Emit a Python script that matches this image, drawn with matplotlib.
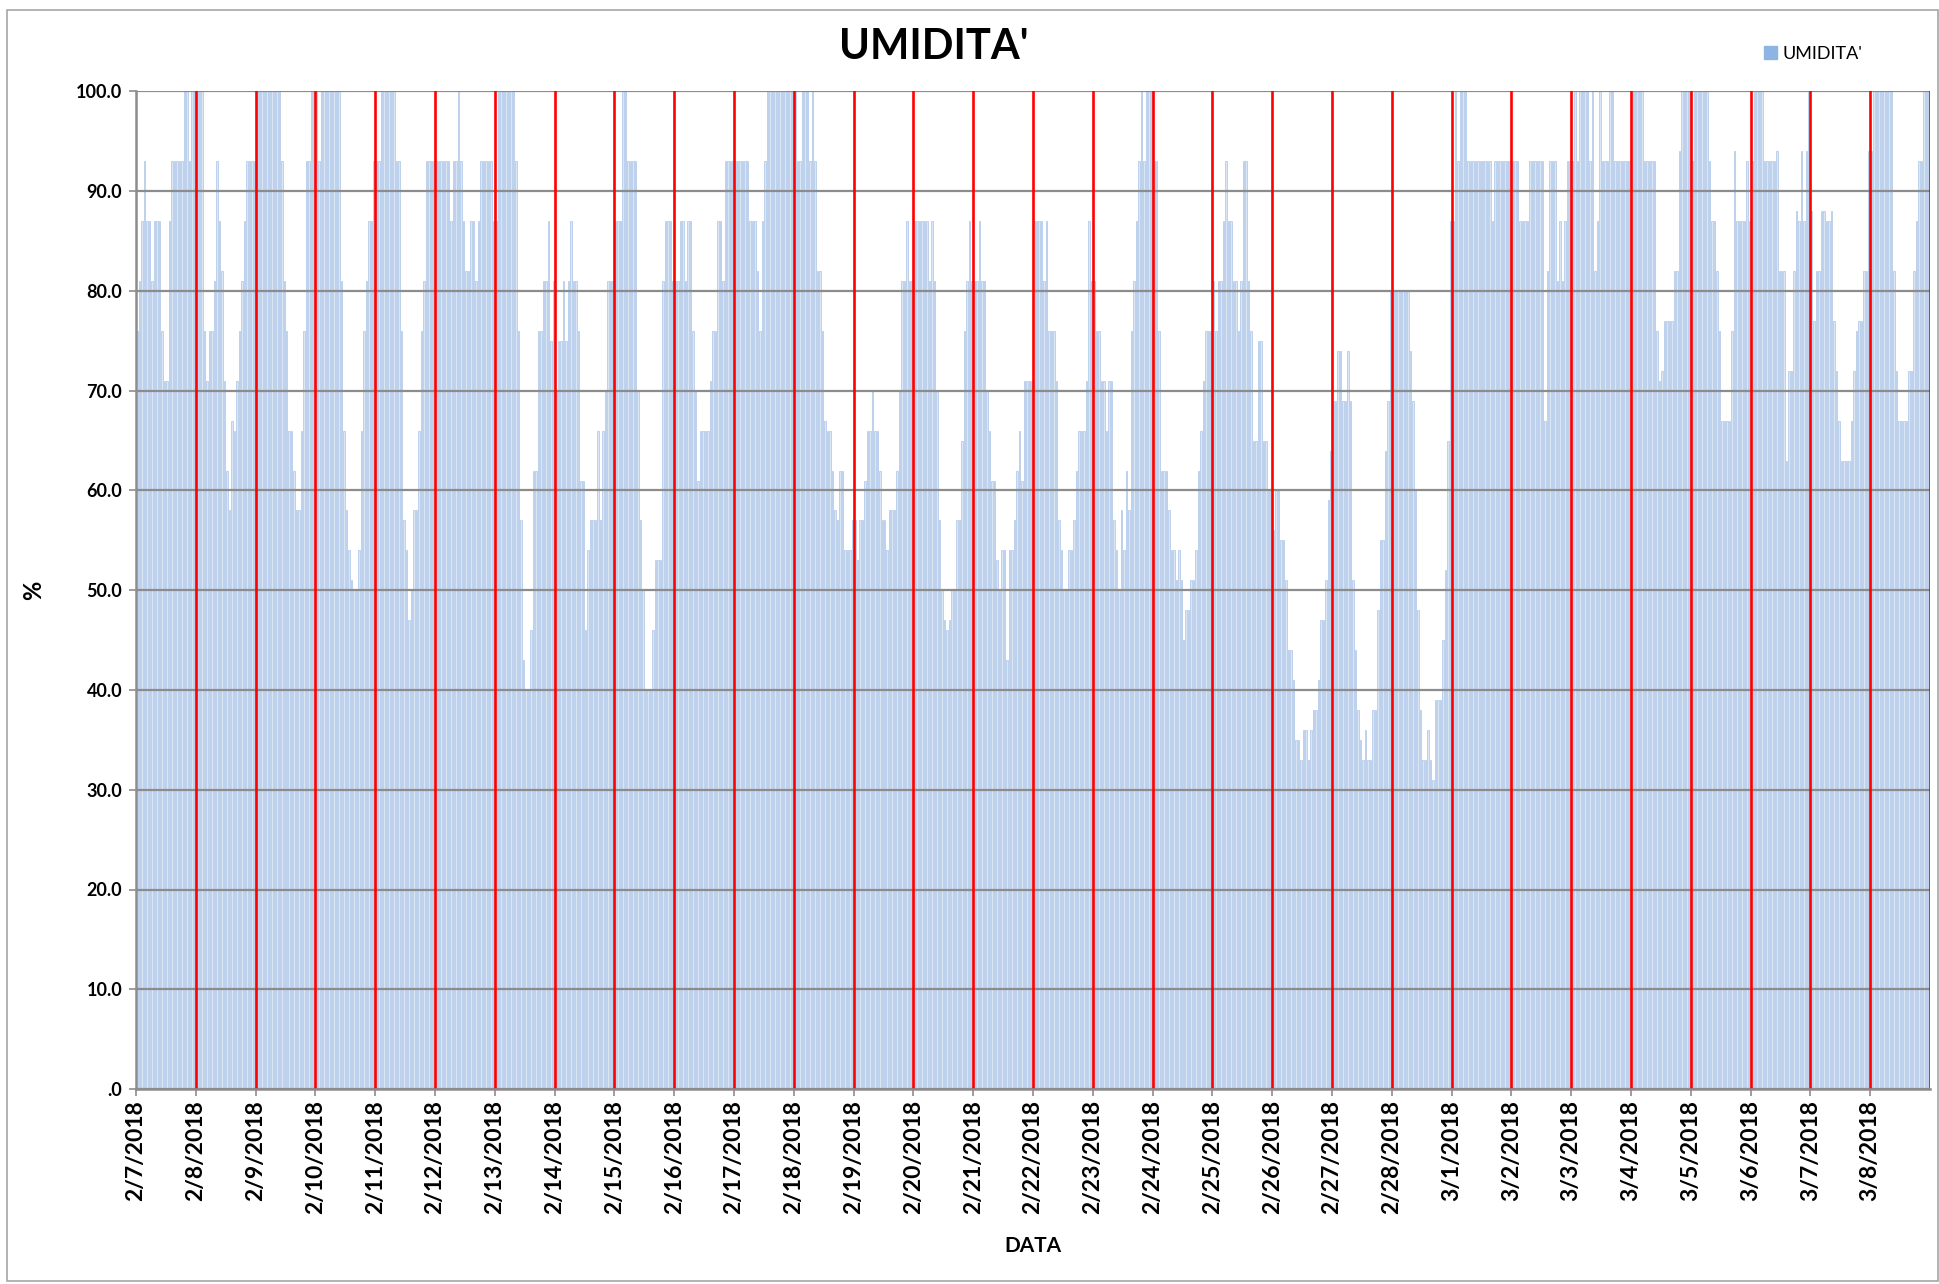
import matplotlib
matplotlib.use("Agg")
import matplotlib.pyplot as plt
from matplotlib.patches import Patch, Rectangle

plt.rcParams['font.family'] = ['Lato', 'DejaVu Sans']

# one label per day, 24 hourly readings per day
date_labels = ['2/7/2018', '2/8/2018', '2/9/2018', '2/10/2018', '2/11/2018', '2/12/2018',
               '2/13/2018', '2/14/2018', '2/15/2018', '2/16/2018', '2/17/2018', '2/18/2018',
               '2/19/2018', '2/20/2018', '2/21/2018', '2/22/2018', '2/23/2018', '2/24/2018',
               '2/25/2018', '2/26/2018', '2/27/2018', '2/28/2018', '3/1/2018', '3/2/2018',
               '3/3/2018', '3/4/2018', '3/5/2018', '3/6/2018', '3/7/2018', '3/8/2018']

umidita = [
    76, 81, 87, 93, 87, 87, 81, 87, 87, 87, 76, 71, 71, 87, 93, 93, 93, 93, 93, 100, 100, 93, 100, 100,   # 2/7
    100, 100, 100, 76, 71, 76, 76, 81, 93, 87, 82, 71, 62, 58, 67, 66, 71, 76, 81, 87, 93, 93, 93, 93,   # 2/8
    100, 100, 100, 100, 100, 100, 100, 100, 100, 100, 93, 81, 76, 66, 66, 62, 58, 58, 66, 76, 93, 93, 100, 100,
    100, 93, 100, 100, 100, 100, 100, 100, 100, 100, 81, 66, 58, 54, 51, 50, 50, 54, 66, 76, 81, 87, 87, 93,
    93, 93, 100, 100, 100, 100, 100, 100, 93, 93, 76, 57, 54, 47, 50, 58, 58, 66, 76, 81, 93, 93, 93, 93,
    93, 93, 93, 93, 93, 93, 87, 93, 93, 100, 93, 87, 82, 82, 87, 87, 81, 87, 93, 93, 93, 93, 93, 87,   # 2/12
    87, 100, 100, 100, 100, 100, 100, 100, 93, 76, 57, 43, 40, 40, 46, 62, 62, 76, 76, 81, 81, 87, 75, 81,
    70, 75, 75, 81, 75, 81, 87, 81, 81, 76, 61, 61, 46, 54, 57, 57, 57, 66, 57, 66, 70, 81, 81, 81,
    87, 87, 87, 100, 100, 93, 93, 93, 93, 70, 57, 50, 40, 40, 40, 46, 53, 53, 53, 81, 87, 87, 87, 81,
    81, 81, 87, 87, 81, 87, 87, 76, 70, 61, 66, 66, 66, 66, 71, 76, 76, 87, 87, 81, 93, 93, 93, 93,   # 2/16
    93, 93, 93, 93, 93, 93, 87, 87, 87, 82, 76, 87, 93, 100, 100, 100, 100, 100, 100, 100, 100, 100, 100, 100,
    100, 93, 93, 100, 100, 100, 93, 100, 93, 82, 82, 76, 67, 66, 66, 62, 58, 57, 62, 62, 54, 54, 54, 57,
    57, 53, 57, 57, 61, 66, 66, 70, 66, 66, 62, 57, 57, 54, 58, 58, 58, 62, 70, 81, 81, 87, 81, 81,
    87, 87, 87, 87, 87, 87, 81, 87, 81, 70, 57, 50, 47, 46, 47, 50, 50, 57, 57, 65, 76, 81, 87, 81,   # 2/20
    81, 81, 87, 81, 81, 70, 66, 61, 61, 53, 50, 54, 54, 43, 54, 54, 57, 62, 66, 61, 71, 71, 71, 71,
    87, 87, 87, 87, 81, 87, 76, 76, 76, 71, 57, 54, 50, 50, 54, 54, 57, 62, 66, 66, 66, 71, 87, 81,
    81, 76, 76, 71, 71, 66, 71, 71, 57, 54, 50, 58, 54, 62, 58, 76, 81, 87, 93, 100, 93, 100, 100, 100,
    93, 93, 76, 62, 62, 62, 58, 54, 54, 51, 54, 51, 45, 48, 48, 51, 51, 54, 62, 66, 71, 76, 76, 76,   # 2/24
    81, 76, 81, 81, 87, 93, 87, 87, 81, 81, 76, 81, 93, 93, 81, 76, 65, 65, 75, 75, 65, 65, 60, 60,
    56, 60, 60, 55, 55, 51, 44, 44, 41, 35, 35, 33, 36, 36, 33, 36, 38, 38, 41, 47, 47, 51, 59, 64,
    69, 69, 74, 74, 69, 69, 74, 69, 51, 44, 38, 35, 33, 36, 33, 33, 38, 38, 48, 55, 55, 64, 69, 80,
    80, 80, 80, 80, 80, 80, 80, 74, 69, 60, 48, 38, 33, 33, 36, 33, 31, 39, 39, 39, 45, 52, 65, 87,   # 2/28
    87, 100, 93, 100, 100, 100, 93, 93, 93, 93, 93, 93, 93, 93, 93, 93, 87, 93, 93, 93, 93, 93, 93, 93,
    93, 93, 93, 87, 87, 87, 87, 93, 93, 93, 93, 93, 93, 67, 82, 93, 93, 93, 81, 87, 81, 87, 93, 93,
    93, 100, 93, 100, 100, 100, 100, 93, 100, 82, 87, 100, 93, 93, 93, 100, 100, 93, 93, 93, 93, 93, 93, 93,
    100, 100, 100, 100, 100, 93, 93, 93, 93, 93, 76, 71, 72, 77, 77, 77, 77, 82, 82, 94, 100, 100, 100, 100,  # 3/4
    93, 100, 100, 100, 100, 100, 100, 93, 87, 87, 82, 76, 67, 67, 67, 67, 76, 94, 87, 87, 87, 87, 93, 87,
    93, 100, 100, 100, 100, 93, 93, 93, 93, 93, 94, 82, 82, 82, 63, 72, 72, 82, 88, 87, 94, 87, 94, 100,
    88, 77, 82, 82, 88, 88, 87, 87, 88, 77, 72, 67, 63, 63, 63, 63, 67, 72, 76, 77, 77, 82, 82, 94,
    94, 100, 100, 100, 100, 100, 100, 100, 100, 82, 72, 67, 67, 67, 67, 72, 72, 82, 87, 93, 93, 100, 100, 100,  # 3/8
]

y_ticks = [0, 10, 20, 30, 40, 50, 60, 70, 80, 90, 100]
y_tick_labels = ['.0', '10.0', '20.0', '30.0', '40.0', '50.0', '60.0', '70.0', '80.0', '90.0', '100.0']

hours = 24
n = len(umidita)
ndays = len(date_labels)

fig = plt.figure(figsize=(19.4, 12.84), dpi=100)
ax = fig.add_axes([136 / 1940, 1 - 1089 / 1284, (1930 - 136) / 1940, (1089 - 91.5) / 1284])

x = [i + 0.5 for i in range(n)]
ax.bar(x, umidita, width=0.6, facecolor='#dbe6f5', edgecolor='#a3c0e8', linewidth=0.45, zorder=2)

# horizontal grid
for v in y_ticks:
    ax.axhline(v, color='#8c8c8c', linewidth=1.6, zorder=3)

# red day separators
for d in range(1, ndays + 1):
    ax.axvline(d * hours, color='#ff0000', linewidth=1.9, zorder=4)

ax.set_xlim(0, ndays * hours)
ax.set_ylim(0, 100)

ax.set_yticks(y_ticks)
ax.set_yticklabels(y_tick_labels, fontsize=13, fontweight='bold')
ax.set_xticks([d * hours for d in range(ndays)])
ax.set_xticklabels(date_labels, rotation=90, fontsize=16.5, fontweight='bold')
ax.tick_params(axis='y', direction='out', length=5, width=1.2, color='#8c8c8c', pad=5)
ax.tick_params(axis='x', direction='out', length=5, width=1.2, color='#8c8c8c', pad=3)

for side in ['top', 'right']:
    ax.spines[side].set_visible(False)
ax.spines['left'].set_color('#8c8c8c')
ax.spines['left'].set_linewidth(1.8)
ax.spines['left'].set_zorder(5)
ax.spines['bottom'].set_color('#8c8c8c')
ax.spines['bottom'].set_linewidth(1.8)
ax.spines['bottom'].set_zorder(5)

ax.set_xlabel('DATA', fontsize=15, fontweight='bold', labelpad=16)
ax.set_ylabel('%', fontsize=17, fontweight='bold', labelpad=22)

fig.text(934 / 1940, 1 - 47 / 1284, "UMIDITA'", fontsize=30, fontweight='bold',
         ha='center', va='center')

handle = Patch(facecolor='#8db4e2', edgecolor='#8db4e2')
fig.legend([handle], ["UMIDITA'"], loc='center left', bbox_to_anchor=(1748 / 1940, 1 - 54 / 1284),
           frameon=False, fontsize=13, handlelength=0.7, handleheight=0.7, handletextpad=0.3)

# chart border
fig.patches.append(Rectangle((7 / 1940, 0.002), 1 - 7 / 1940 - 0.001, 1 - 10 / 1284 - 0.002,
                             transform=fig.transFigure, fill=False, edgecolor='#a6a6a6', linewidth=1.2))

fig.savefig('out.png', dpi=100)
